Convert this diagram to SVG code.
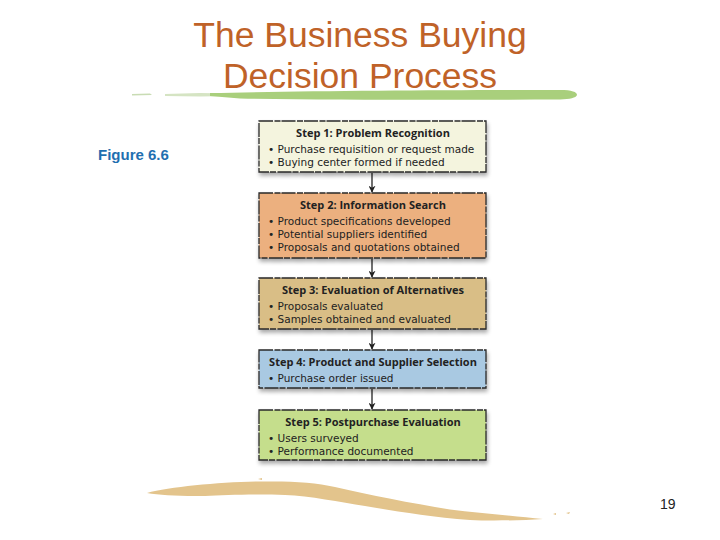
<svg xmlns="http://www.w3.org/2000/svg" width="720" height="540" viewBox="0 0 720 540">
<defs>
<style>
.title{font-family:"Liberation Sans",Arial,sans-serif;font-size:35.5px;fill:#bf6228;text-anchor:middle}
.box{stroke:#2a2a2a;stroke-width:1.3;stroke-dasharray:14 1.5 6 1}
.h{font-family:"Open Sans","Noto Sans",sans-serif;font-size:11px;font-weight:bold;fill:#222;text-anchor:middle}
.b{font-family:"DejaVu Sans",sans-serif;font-size:10.5px;fill:#222}
.conn{stroke:#222;stroke-width:1.3;fill:none}
</style>
<marker id="ah" viewBox="0 0 10 10" refX="9" refY="5" markerWidth="7" markerHeight="7" orient="auto" markerUnits="userSpaceOnUse">
<path d="M0,0 L10,5 L0,10 L3,5 z" fill="#222"/>
</marker>
<filter id="sh" x="-10%" y="-10%" width="120%" height="140%">
<feGaussianBlur in="SourceAlpha" stdDeviation="2"/>
<feOffset dx="1" dy="3" result="o"/>
<feComponentTransfer><feFuncA type="linear" slope="0.35"/></feComponentTransfer>
<feMerge><feMergeNode/><feMergeNode in="SourceGraphic"/></feMerge>
</filter>
</defs>
<rect width="720" height="540" fill="#fff"/>
<text class="title" x="360" y="47">The Business Buying</text>
<text class="title" x="360" y="88">Decision Process</text>
<g id="brush-top">
<path d="M132,94 L150,93.5 L152,95 L132,95.5 z" fill="#c9dcb4"/>
<path d="M165,94 L200,93 L230,93.5 L230,96 L200,96.5 L165,96 z" fill="#d5e4c3"/>
<path d="M210,93 C300,91 450,90 560,90 C572,90 577,92 577,95 C576,98 570,99 560,99.5 C450,100 330,100 240,98.5 L210,96 z" fill="#a9cf7c"/>
</g>
<text x="98" y="160" font-family="Liberation Sans,Arial,sans-serif" font-size="15" font-weight="bold" fill="#1f6fb0">Figure 6.6</text>
<g id="connectors">
<line class="conn" x1="372" y1="173" x2="372" y2="192" marker-end="url(#ah)"/>
<line class="conn" x1="372" y1="259" x2="372" y2="277" marker-end="url(#ah)"/>
<line class="conn" x1="372" y1="330" x2="372" y2="349" marker-end="url(#ah)"/>
<line class="conn" x1="372" y1="389" x2="372" y2="409" marker-end="url(#ah)"/>
</g>
<g id="step1">
<rect class="box" x="259" y="121" width="227" height="51" fill="#f4f4de" filter="url(#sh)"/>
<text class="h" x="373" y="137">Step 1: Problem Recognition</text>
<text class="b" x="268" y="153">• Purchase requisition or request made</text>
<text class="b" x="268" y="166">• Buying center formed if needed</text>
</g>
<g id="step2">
<rect class="box" x="259" y="193" width="227" height="65" fill="#ecb07f" filter="url(#sh)"/>
<text class="h" x="373" y="209">Step 2: Information Search</text>
<text class="b" x="268" y="225">• Product specifications developed</text>
<text class="b" x="268" y="238">• Potential suppliers identified</text>
<text class="b" x="268" y="251">• Proposals and quotations obtained</text>
</g>
<g id="step3">
<rect class="box" x="259" y="278" width="227" height="51" fill="#d9be86" filter="url(#sh)"/>
<text class="h" x="373" y="294">Step 3: Evaluation of Alternatives</text>
<text class="b" x="268" y="310">• Proposals evaluated</text>
<text class="b" x="268" y="323">• Samples obtained and evaluated</text>
</g>
<g id="step4">
<rect class="box" x="259" y="350" width="227" height="38" fill="#a9c9e2" filter="url(#sh)"/>
<text class="h" x="373" y="366">Step 4: Product and Supplier Selection</text>
<text class="b" x="268" y="382">• Purchase order issued</text>
</g>
<g id="step5">
<rect class="box" x="259" y="410" width="227" height="50" fill="#c5de8c" filter="url(#sh)"/>
<text class="h" x="373" y="426">Step 5: Postpurchase Evaluation</text>
<text class="b" x="268" y="442">• Users surveyed</text>
<text class="b" x="268" y="455">• Performance documented</text>
</g>
<g id="brush-bottom" fill="#e3c48c">
<path d="M147,493 C170,487 220,482 260,481.5 C290,481 315,482 335,487 C370,495 410,503 450,509.5 C480,513 515,516 543,519 C520,520.5 490,521 470,520 C430,517 395,511 365,506 C340,502 310,496 285,495 C255,494 225,495 205,496 C180,496.5 160,495 147,493 z"/>
<path d="M258,479 L262,478 L262,480 z"/>
<path d="M553,514 L556,513 L556,515 z"/>
<path d="M566,513 L570,512 L569,514 z"/>
</g>
<text x="660" y="509" font-family="Liberation Sans,Arial,sans-serif" font-size="14" fill="#222">19</text>
</svg>
